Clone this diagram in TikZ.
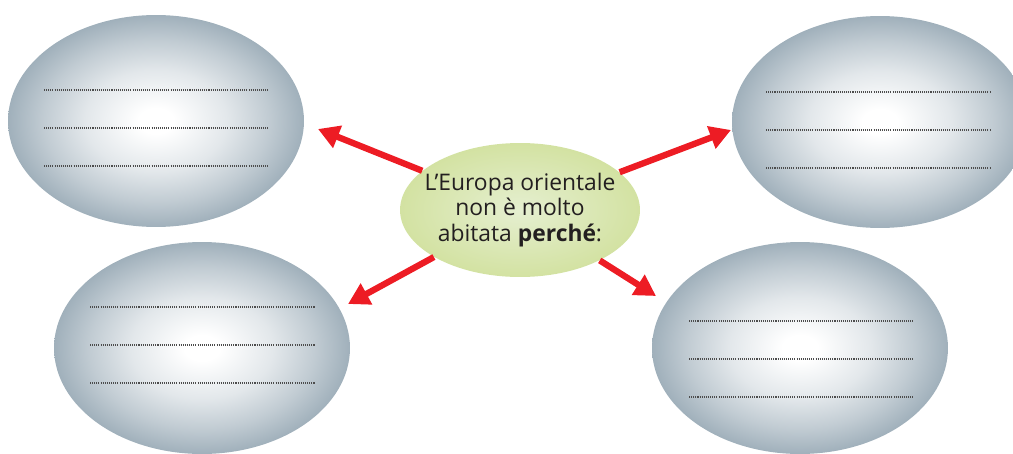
\documentclass[tikz,border=0pt]{standalone}
\usepackage{fontspec}
\setmainfont{Open Sans}
\usetikzlibrary{arrows.meta,shapes.geometric}
\definecolor{ovalgray}{RGB}{160,176,187}
\definecolor{ovalgreen}{RGB}{211,226,162}
\definecolor{ovalgreenin}{RGB}{229,239,208}
\definecolor{arrowred}{RGB}{237,28,36}
\definecolor{textgray}{RGB}{35,31,32}
\pgfdeclareradialshading{ovalshade}{\pgfpoint{0bp}{0bp}}{color(0bp)=(white); color(3bp)=(white);
  color(12bp)=(ovalgray!30); color(19bp)=(ovalgray!65); color(25bp)=(ovalgray); color(50bp)=(ovalgray)}
\tikzset{
  oval/.style={ellipse,inner sep=0pt,shading=ovalshade},
  dotline/.style={line width=0.7pt,dash pattern=on 0.6pt off 0.6pt,color=black!70},
  redarrow/.style={line width=3.6pt,color=arrowred,-{Triangle[length=12pt,width=13pt]}}
}
\begin{document}
\begin{tikzpicture}[x=0.02cm,y=-0.02cm]
\useasboundingbox (0,0) rectangle (1013,453);
\foreach \n/\x/\y in {ovalTL/156/121,ovalTR/880/122,ovalBL/202/348,ovalBR/800/348}
  \node[oval,minimum width=5.92cm,minimum height=4.24cm] (\n) at (\x,\y) {};
\foreach \xa/\xb/\ya in {44/268/90,766/991/92,90/315/307,689/913/321}
  \foreach \d in {0,38,76} \draw[dotline] (\xa,\ya+\d) -- (\xb,\ya+\d);
\node[ellipse,inner sep=0pt,minimum width=4.8cm,minimum height=2.68cm,shading=radial,
  inner color=ovalgreenin,outer color=ovalgreen] (cause) at (520,210) {};
\node[align=center,text=textgray,font=\fontsize{13}{14.4}\selectfont] (causetext) at (cause)
  {L’Europa orientale\\non è molto\\abitata \textbf{perché}:};
\foreach \t/\x/\y in {tipTL/318/129,tipTR/731/130,tipBL/348/304,tipBR/656/296}
  \coordinate (\t) at (\x,\y);
\foreach \t in {tipTL,tipTR,tipBL,tipBR} \draw[redarrow] (cause) -- (\t);
\end{tikzpicture}
\end{document}
